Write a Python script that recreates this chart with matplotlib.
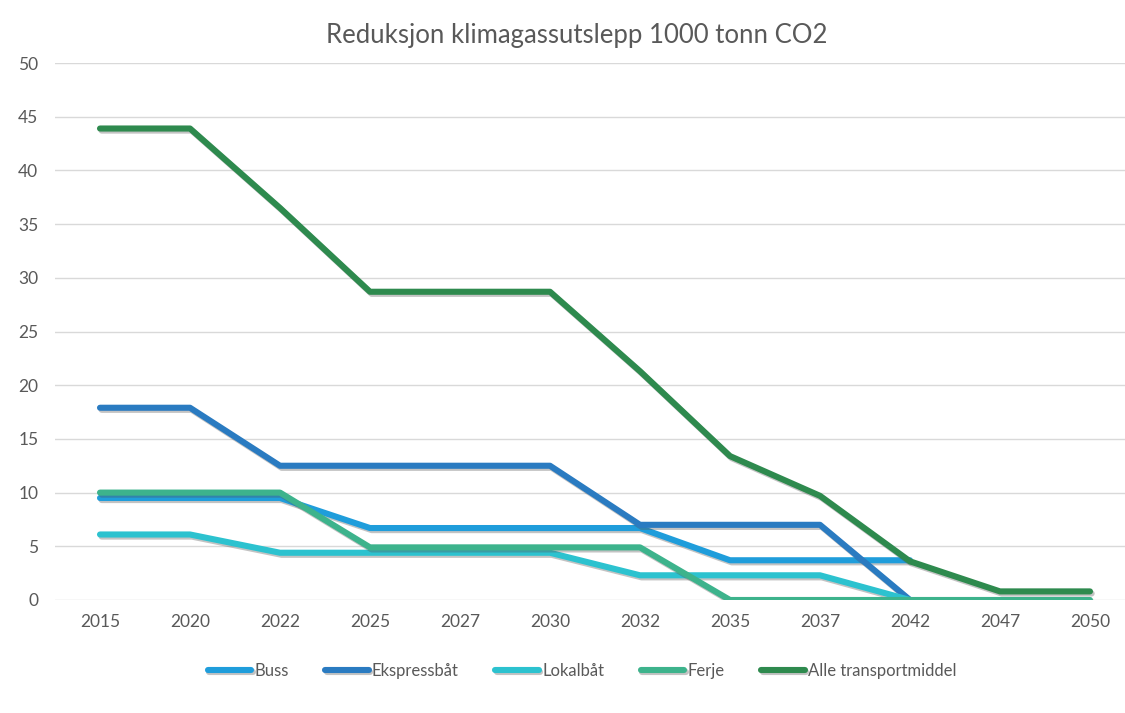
import numpy as np
import matplotlib
matplotlib.use("Agg")
import matplotlib.pyplot as plt
import matplotlib.patheffects as pe

years = ["2015", "2020", "2022", "2025", "2027", "2030", "2032", "2035", "2037", "2042", "2047", "2050"]
buss = [9.5, 9.5, 9.5, 6.7, 6.7, 6.7, 6.7, 3.7, 3.7, 3.7, np.nan, np.nan]
ekspressbat = [17.9, 17.9, 12.5, 12.5, 12.5, 12.5, 7.0, 7.0, 7.0, 0.0, np.nan, np.nan]
lokalbat = [6.1, 6.1, 4.4, 4.4, 4.4, 4.4, 2.3, 2.3, 2.3, 0.0, np.nan, np.nan]
ferje = [10.0, 10.0, 10.0, 4.9, 4.9, 4.9, 4.9, 0.0, 0.0, 0.0, 0.0, 0.0]
alle = [43.9, 43.9, 36.5, 28.7, 28.7, 28.7, 21.3, 13.4, 9.7, 3.6, 0.8, 0.8]

series = [
    ("Buss", buss, "#1f9ddb"),
    ("Ekspressbåt", ekspressbat, "#2a7bc1"),
    ("Lokalbåt", lokalbat, "#2cc2cf"),
    ("Ferje", ferje, "#3db38c"),
    ("Alle transportmiddel", alle, "#2e8a4e"),
]

plt.rcParams['font.family'] = ['Lato', 'DejaVu Sans']

W, H = 1125, 713
fig = plt.figure(figsize=(W / 100, H / 100), dpi=100)
ax = fig.add_axes([55 / W, 113 / H, 1080 / W, 537 / H])

x = np.arange(len(years))
shadow = [pe.SimpleLineShadow(offset=(1.2, -1.5), shadow_color="#555555", alpha=0.35), pe.Normal()]
for name, vals, col in series:
    ax.plot(x, vals, color=col, lw=4.4, label=name, solid_capstyle="round",
            solid_joinstyle="round", path_effects=shadow, zorder=3)

ax.set_xlim(-0.5, len(years) - 0.5)
ax.set_ylim(0, 50)
ax.set_yticks(np.arange(0, 51, 5))
ax.set_xticks(x)
ax.set_xticklabels(years)
ax.grid(axis="y", color="#d9d9d9", lw=1)
ax.set_axisbelow(True)
for s in ax.spines.values():
    s.set_visible(False)
ax.tick_params(length=0, labelsize=12.5, colors="#595959", pad=10)
ax.tick_params(axis="y", pad=12)

fig.text(577 / W, 1 - 35 / H, "Reduksjon klimagassutslepp 1000 tonn CO2", ha="center", va="center",
         fontsize=18.5, color="#595959")

fig.legend(loc="center", bbox_to_anchor=(582 / W, 1 - 671 / H), ncol=5, frameon=False,
           fontsize=12, handlelength=2.6, handletextpad=0.2, columnspacing=2.2,
           labelcolor="#595959")

fig.savefig("out.png", dpi=100, facecolor="white")
